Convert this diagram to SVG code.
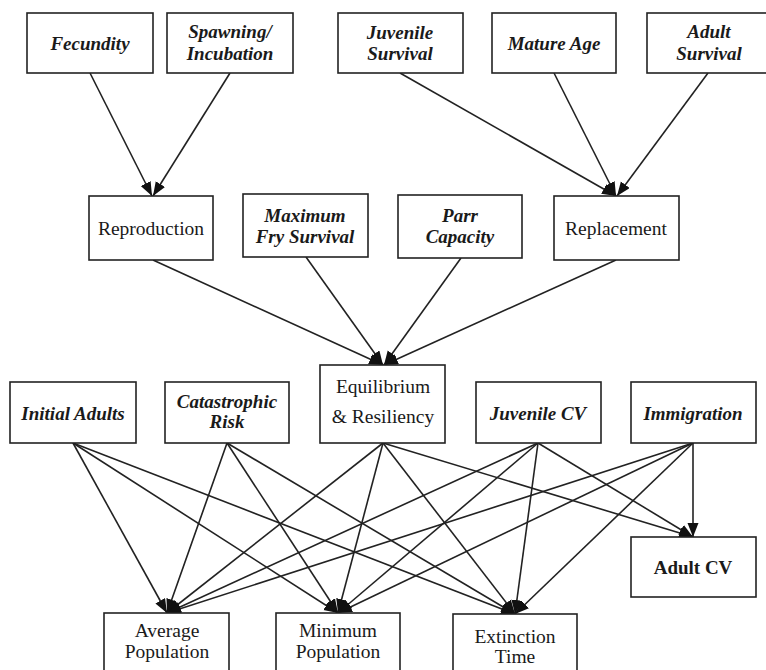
<svg xmlns="http://www.w3.org/2000/svg" width="766" height="670" viewBox="0 0 766 670">
<style>
rect{fill:#fff;stroke:#222;stroke-width:1.6}
text{fill:#1a1a1a;text-anchor:middle;font-size:19px}
.bi{font-weight:bold;font-style:italic}
.b{font-weight:bold}
.r{font-size:19.5px}
#edges line{stroke:#222;stroke-width:1.6;marker-end:url(#ah)}
</style>
<defs>
<marker id="ah" markerUnits="userSpaceOnUse" markerWidth="15" markerHeight="12" refX="14" refY="5.5" orient="auto">
<path d="M0,0 L14,5.5 L0,11 z" fill="#111"/>
</marker>
</defs>
<rect x="0" y="0" width="766" height="670" style="stroke:none"/>
<g id="edges">
<line x1="90" y1="73" x2="152" y2="196"/>
<line x1="230" y1="73" x2="153" y2="196"/>
<line x1="400" y1="73" x2="616" y2="196"/>
<line x1="554" y1="73" x2="616" y2="196"/>
<line x1="708" y1="73" x2="617" y2="196"/>
<line x1="153" y1="260" x2="383" y2="365"/>
<line x1="306" y1="257" x2="383" y2="365"/>
<line x1="461" y1="258" x2="384" y2="365"/>
<line x1="616" y1="260" x2="384" y2="365"/>
<line x1="73" y1="443" x2="167" y2="613"/>
<line x1="73" y1="443" x2="338" y2="613"/>
<line x1="73" y1="443" x2="515" y2="614"/>
<line x1="227" y1="443" x2="167" y2="613"/>
<line x1="227" y1="443" x2="338" y2="613"/>
<line x1="227" y1="443" x2="515" y2="614"/>
<line x1="383" y1="443" x2="167" y2="613"/>
<line x1="383" y1="443" x2="338" y2="613"/>
<line x1="383" y1="443" x2="515" y2="614"/>
<line x1="383" y1="443" x2="693" y2="537"/>
<line x1="538" y1="443" x2="167" y2="613"/>
<line x1="538" y1="443" x2="338" y2="613"/>
<line x1="538" y1="443" x2="515" y2="614"/>
<line x1="538" y1="443" x2="693" y2="537"/>
<line x1="693" y1="443" x2="167" y2="613"/>
<line x1="693" y1="443" x2="338" y2="613"/>
<line x1="693" y1="443" x2="515" y2="614"/>
<line x1="693" y1="443" x2="693" y2="537"/>
</g>
<g id="nodes" font-family="Liberation Serif, Times New Roman, serif">
<g id="fecundity"><rect x="27" y="13" width="126" height="60"/><text class="bi" x="90" y="50">Fecundity</text></g>
<g id="spawning"><rect x="167" y="13" width="126" height="60"/><text class="bi" x="230" y="38">Spawning/</text><text class="bi" x="230" y="60">Incubation</text></g>
<g id="juvenile-survival"><rect x="338" y="13" width="125" height="60"/><text class="bi" x="400" y="39">Juvenile</text><text class="bi" x="400" y="60">Survival</text></g>
<g id="mature-age"><rect x="492" y="13" width="124" height="60"/><text class="bi" x="554" y="50">Mature Age</text></g>
<g id="adult-survival"><rect x="647" y="13" width="124" height="60"/><text class="bi" x="709" y="38">Adult</text><text class="bi" x="709" y="60">Survival</text></g>
<g id="reproduction"><rect x="89" y="196" width="124" height="64"/><text class="r" x="151" y="235">Reproduction</text></g>
<g id="max-fry"><rect x="243" y="194" width="125" height="63"/><text class="bi" x="305" y="222">Maximum</text><text class="bi" x="305" y="243">Fry Survival</text></g>
<g id="parr"><rect x="398" y="195" width="124" height="63"/><text class="bi" x="460" y="222">Parr</text><text class="bi" x="460" y="243">Capacity</text></g>
<g id="replacement"><rect x="554" y="196" width="125" height="64"/><text class="r" x="616" y="235">Replacement</text></g>
<g id="equilibrium"><rect x="320" y="365" width="125" height="78"/><text class="r" x="383" y="393">Equilibrium</text><text class="r" x="383" y="423">&amp; Resiliency</text></g>
<g id="initial-adults"><rect x="10" y="382" width="126" height="61"/><text class="bi" x="73" y="420">Initial Adults</text></g>
<g id="catastrophic"><rect x="165" y="382" width="124" height="61"/><text class="bi" x="227" y="408">Catastrophic</text><text class="bi" x="227" y="428">Risk</text></g>
<g id="juvenile-cv"><rect x="476" y="382" width="125" height="61"/><text class="bi" x="538" y="420">Juvenile CV</text></g>
<g id="immigration"><rect x="631" y="382" width="125" height="61"/><text class="bi" x="693" y="420">Immigration</text></g>
<g id="adult-cv"><rect x="631" y="537" width="125" height="60"/><text class="b" x="693" y="574">Adult CV</text></g>
<g id="average-pop"><rect x="104" y="613" width="125" height="70"/><text class="r" x="167" y="637">Average</text><text class="r" x="167" y="658">Population</text></g>
<g id="minimum-pop"><rect x="276" y="613" width="124" height="70"/><text class="r" x="338" y="637">Minimum</text><text class="r" x="338" y="658">Population</text></g>
<g id="extinction-time"><rect x="453" y="614" width="124" height="70"/><text class="r" x="515" y="643">Extinction</text><text class="r" x="515" y="663">Time</text></g>
</g>
</svg>
